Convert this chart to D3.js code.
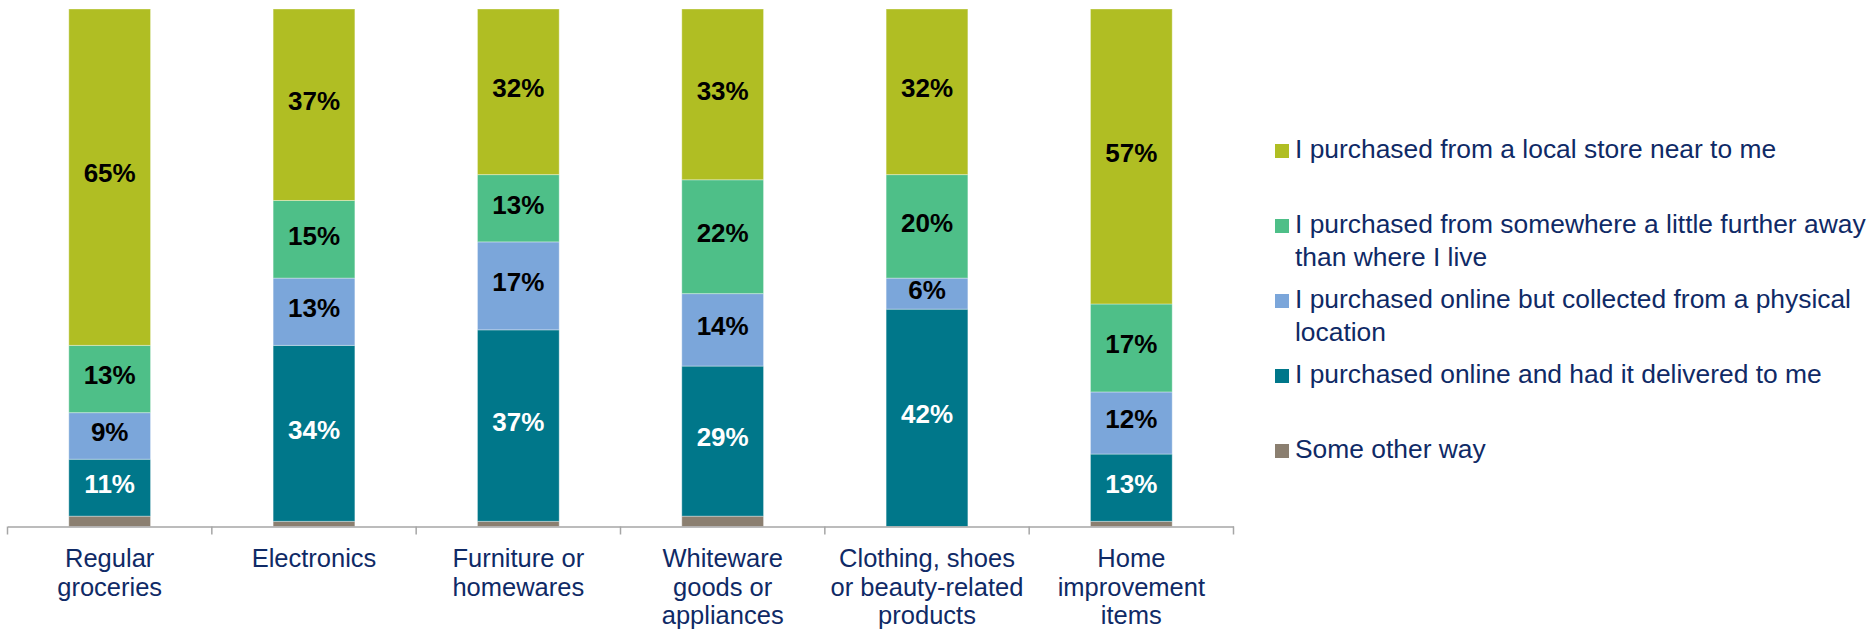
<!DOCTYPE html>
<html>
<head>
<meta charset="utf-8">
<script src="https://cdn.jsdelivr.net/npm/d3@7"></script>
<style>
  html, body { margin: 0; padding: 0; background: #ffffff; }
  svg { display: block; }
  text { font-family: "Liberation Sans", Arial, sans-serif; }
</style>
</head>
<body>
<svg id="chart" width="1875" height="632"></svg>
<script>
// Purchase channel by product category (% of respondents)
const categories = [
  ["Regular", "groceries"],
  ["Electronics"],
  ["Furniture or", "homewares"],
  ["Whiteware", "goods or", "appliances"],
  ["Clothing, shoes", "or beauty-related", "products"],
  ["Home", "improvement", "items"]
];
const seriesNames = [
  "Some other way",
  "I purchased online and had it delivered to me",
  "I purchased online but collected from a physical location",
  "I purchased from somewhere a little further away than where I live",
  "I purchased from a local store near to me"
];
// values per category, bottom-to-top in stack order
const otherWay    = [2, 1, 1, 2, 0, 1];
const delivered   = [11, 34, 37, 29, 42, 13];
const collected   = [9, 13, 17, 14, 6, 12];
const furtherAway = [13, 15, 13, 22, 20, 17];
const localStore  = [65, 37, 32, 33, 32, 57];

const legendLines = [
  ["I purchased from a local store near to me"],
  ["I purchased from somewhere a little further away", "than where I live"],
  ["I purchased online but collected from a physical", "location"],
  ["I purchased online and had it delivered to me"],
  ["Some other way"]
];
const legendOrder = [4, 3, 2, 1, 0];

const colors = ["#8b7f70", "#00778a", "#7ba6da", "#4ebf88", "#b0be23"];
const labelColors = [null, "#ffffff", "#000000", "#000000", "#000000"];
const navy = "#0f2a66";

const svg = d3.select("#chart");
const keys = categories.map(c => c.join(" "));
const seriesValues = [otherWay, delivered, collected, furtherAway, localStore];
const rows = keys.map((k, i) => {
  const r = { key: k };
  seriesValues.forEach((arr, s) => { r["s" + s] = arr[i]; });
  return r;
});
const stack = d3.stack().keys(seriesValues.map((_, s) => "s" + s));
const stacked = stack(rows);

const x = d3.scaleBand().domain(keys).range([7.5, 1233.5]).padding(0);
const y = d3.scaleLinear().domain([0, 100]).range([526.5, 9]);
const barFrac = 0.4;
const barW = x.bandwidth() * barFrac;
const barX = k => x(k) + (x.bandwidth() - barW) / 2;

// stacked bars
const layers = svg.append("g").selectAll("g.layer")
  .data(stacked).enter().append("g")
  .attr("class", "layer")
  .attr("fill", (d, i) => colors[i]);

layers.selectAll("rect")
  .data(d => d.map(p => ({ p, key: p.data.key })))
  .enter().append("rect")
  .attr("x", d => barX(d.key))
  .attr("width", barW)
  .attr("y", d => y(d.p[1]))
  .attr("height", d => Math.max(0, y(d.p[0]) - y(d.p[1])))
  .attr("stroke", "rgba(255,255,255,0.35)")
  .attr("stroke-width", 1);

// value labels
stacked.forEach((layer, s) => {
  if (!labelColors[s]) return;
  svg.append("g").selectAll("text")
    .data(layer).enter().append("text")
    .attr("x", d => x(d.data.key) + x.bandwidth() / 2)
    .attr("y", d => (y(d[0]) + y(d[1])) / 2 + 5.3)
    .attr("text-anchor", "middle")
    .attr("font-size", 26)
    .attr("font-weight", "bold")
    .attr("fill", labelColors[s])
    .text(d => (d[1] - d[0]) + "%");
});

// category axis
const axis = d3.axisBottom(x).tickSize(0).tickFormat("");
const gAxis = svg.append("g").attr("transform", "translate(0,526.5)").call(axis);
gAxis.select(".domain").attr("stroke", "#a6a6a6").attr("stroke-width", 1.5);
const bounds = keys.map(k => x(k)).concat([x.range()[1]]);
gAxis.selectAll("line.sep").data(bounds).enter().append("line")
  .attr("class", "sep")
  .attr("x1", d => d).attr("x2", d => d)
  .attr("y1", 0).attr("y2", 8)
  .attr("stroke", "#a6a6a6").attr("stroke-width", 1.5);

const catG = svg.append("g");
categories.forEach((lines, i) => {
  const t = catG.append("text")
    .attr("x", x(keys[i]) + x.bandwidth() / 2)
    .attr("y", 567)
    .attr("text-anchor", "middle")
    .attr("font-size", 25.5)
    .attr("fill", navy);
  lines.forEach((ln, j) => {
    t.append("tspan").attr("x", x(keys[i]) + x.bandwidth() / 2)
      .attr("dy", j === 0 ? 0 : 28.5).text(ln);
  });
});

// legend
const lg = svg.append("g").attr("transform", "translate(1275,0)");
legendOrder.forEach((s, r) => {
  const base = 158 + r * 75;
  lg.append("rect").attr("x", 0).attr("y", base - 14)
    .attr("width", 14).attr("height", 14).attr("fill", colors[s]);
  const t = lg.append("text").attr("x", 20).attr("y", base)
    .attr("font-size", 26.4).attr("fill", navy);
  legendLines[r].forEach((ln, j) => {
    t.append("tspan").attr("x", 20).attr("dy", j === 0 ? 0 : 32.5).text(ln);
  });
});
</script>
</body>
</html>
